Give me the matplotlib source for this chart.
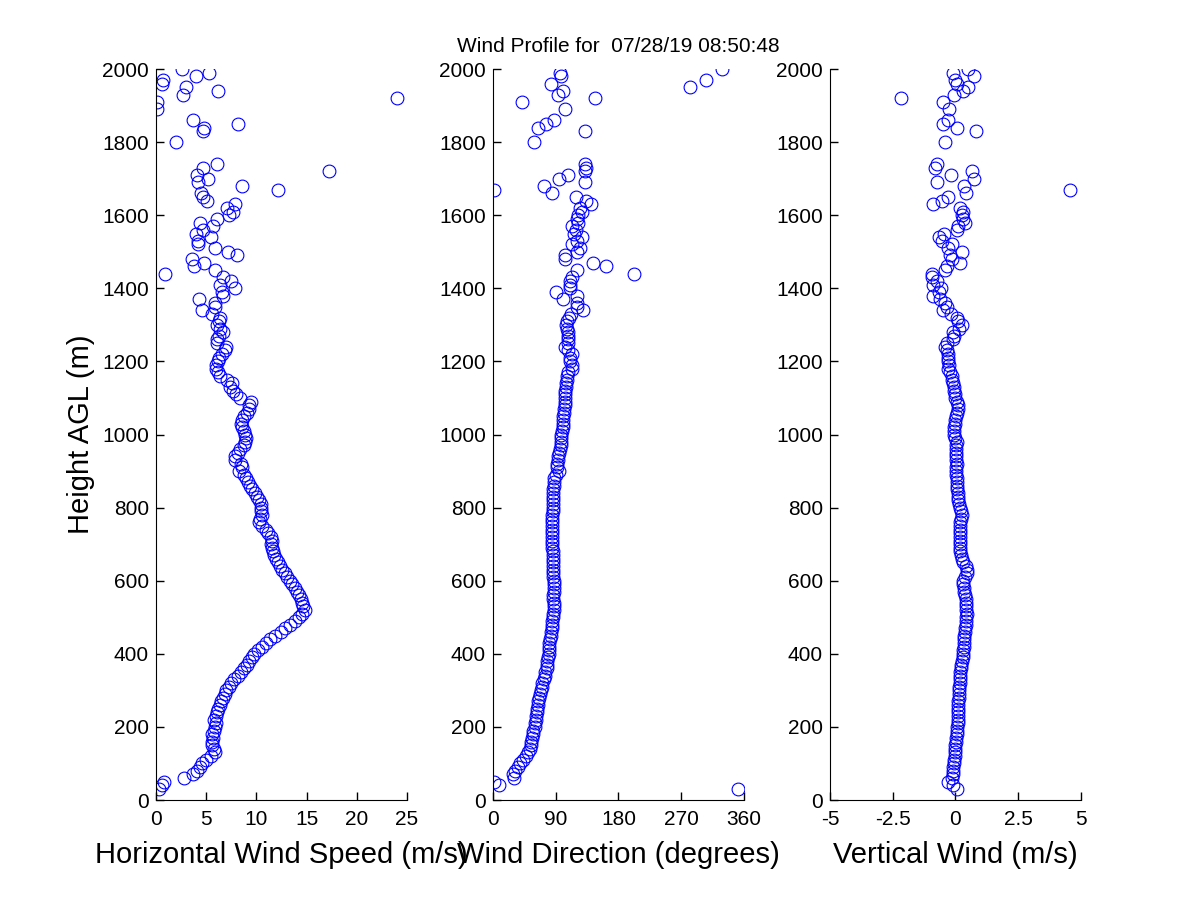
import numpy as np
import matplotlib
matplotlib.use('Agg')
import matplotlib.pyplot as plt

# range gates (m AGL); lower part every 10 m, some gates missing aloft
heights = [
    30, 40, 50, 60, 70, 80, 90, 100, 110, 120,
    130, 140, 150, 160, 170, 180, 190, 200, 210, 220,
    230, 240, 250, 260, 270, 280, 290, 300, 310, 320,
    330, 340, 350, 360, 370, 380, 390, 400, 410, 420,
    430, 440, 450, 460, 470, 480, 490, 500, 510, 520,
    530, 540, 550, 560, 570, 580, 590, 600, 610, 620,
    630, 640, 650, 660, 670, 680, 690, 700, 710, 720,
    730, 740, 750, 760, 770, 780, 790, 800, 810, 820,
    830, 840, 850, 860, 870, 880, 890, 900, 910, 920,
    930, 940, 950, 960, 970, 980, 990, 1000, 1010, 1020,
    1030, 1040, 1050, 1060, 1070, 1080, 1090, 1100, 1110, 1120,
    1130, 1140, 1150, 1160, 1170, 1180, 1190, 1200, 1210, 1220,
    1230, 1240, 1250, 1260, 1270, 1280, 1290, 1300, 1310, 1320,
    1330, 1340, 1350, 1360, 1370, 1380, 1390, 1400, 1410, 1420,
    1430, 1440, 1450, 1460, 1470, 1480, 1490, 1500, 1510, 1520,
    1530, 1540, 1550, 1560, 1570, 1580, 1590, 1600, 1610, 1620,
    1630, 1640, 1650, 1660, 1670, 1680, 1690, 1700, 1710, 1720,
    1730, 1740,
    1800, 1830, 1840, 1850, 1860, 1890, 1910, 1920, 1930, 1940,
    1950, 1960, 1970, 1980, 1990, 2000,
]

# horizontal wind speed (m/s)
speed = [
    0.3, 0.6, 0.8, 2.8, 3.7, 4.1, 4.4, 4.6, 5.0, 5.5,
    5.9, 5.8, 5.6, 5.6, 5.7, 5.6, 5.8, 5.9, 6.0, 5.8,
    6.0, 6.1, 6.2, 6.4, 6.5, 6.7, 6.9, 7.0, 7.3, 7.5,
    7.8, 8.2, 8.5, 8.8, 9.1, 9.3, 9.6, 9.8, 10.2, 10.6,
    11.0, 11.4, 11.9, 12.4, 12.8, 13.3, 13.8, 14.2, 14.5, 14.8,
    14.6, 14.5, 14.4, 14.2, 14.0, 13.8, 13.5, 13.3, 13.0, 12.8,
    12.5, 12.3, 12.1, 12.0, 11.8, 11.7, 11.6, 11.5, 11.6, 11.5,
    11.2, 11.0, 10.6, 10.3, 10.4, 10.6, 10.5, 10.5, 10.5, 10.3,
    10.1, 9.9, 9.6, 9.4, 9.2, 9.0, 8.8, 8.3, 8.6, 8.5,
    7.9, 7.9, 8.2, 8.4, 8.8, 8.9, 9.0, 8.9, 8.8, 8.6,
    8.5, 8.6, 8.8, 9.1, 9.3, 9.3, 9.5, 8.4, 8.0, 7.7,
    7.4, 7.6, 7.1, 6.4, 6.2, 6.0, 6.0, 6.2, 6.3, 6.6,
    6.9, 7.0, 6.1, 6.1, 6.3, 6.7, 6.4, 6.1, 6.3, 6.4,
    5.6, 4.6, 5.9, 5.9, 4.3, 6.7, 6.6, 7.9, 6.4, 7.5,
    6.7, 0.9, 5.9, 3.8, 4.8, 3.6, 8.1, 7.2, 5.9, 4.2,
    4.2, 5.5, 4.0, 4.7, 5.7, 4.4, 6.1, 7.3, 7.7, 7.1,
    7.9, 5.1, 4.7, 4.5, 12.1, 8.6, 4.2, 5.2, 4.1, 17.2,
    4.7, 6.1,
    2.0, 4.7, 4.8, 8.2, 3.7, 0.1, 0.1, 24.0, 2.7, 6.2,
    3.0, 0.6, 0.7, 4.0, 5.3, 2.6,
]

# wind direction (degrees)
direction = [
    352, 8, 2, 30, 29, 32, 36, 39, 43, 47,
    50, 53, 54, 55, 56, 57, 58, 60, 61, 62,
    62, 63, 63, 64, 65, 66, 67, 69, 70, 71,
    73, 74, 75, 77, 78, 78, 79, 80, 80, 80,
    81, 82, 83, 83, 84, 84, 85, 86, 86, 87,
    87, 87, 86, 86, 87, 87, 87, 87, 86, 86,
    86, 86, 86, 86, 86, 86, 85, 85, 85, 85,
    85, 85, 84, 85, 85, 85, 86, 86, 86, 86,
    86, 86, 86, 87, 88, 88, 91, 95, 92, 92,
    93, 93, 95, 96, 97, 97, 98, 98, 99, 100,
    100, 101, 101, 102, 102, 103, 104, 104, 104, 104,
    105, 105, 106, 106, 108, 113, 113, 110, 110, 113,
    108, 103, 108, 107, 107, 107, 106, 105, 106, 109,
    112, 129, 121, 121, 100, 120, 90, 110, 110, 110,
    113, 202, 121, 162, 144, 104, 104, 121, 125, 114,
    121, 127, 116, 119, 113, 122, 121, 122, 127, 125,
    141, 133, 119, 84, 2, 73, 132, 94, 108, 132,
    133, 132,
    59, 132, 64, 76, 88, 104, 41, 146, 93, 100,
    282, 83, 305, 98, 96, 329,
]

# vertical wind (m/s)
vertical = [
    0.05, -0.08, -0.28, -0.12, -0.10, -0.10, -0.08, -0.06, -0.05, -0.03,
    -0.02, 0.00, -0.02, 0.02, 0.03, 0.05, 0.05, 0.08, 0.10, 0.10,
    0.10, 0.10, 0.11, 0.12, 0.12, 0.13, 0.15, 0.15, 0.16, 0.17,
    0.17, 0.18, 0.20, 0.22, 0.24, 0.28, 0.30, 0.30, 0.32, 0.33,
    0.34, 0.35, 0.36, 0.38, 0.40, 0.42, 0.43, 0.44, 0.45, 0.44,
    0.43, 0.43, 0.42, 0.40, 0.36, 0.33, 0.30, 0.30, 0.38, 0.45,
    0.48, 0.42, 0.30, 0.25, 0.22, 0.20, 0.20, 0.20, 0.18, 0.18,
    0.19, 0.20, 0.20, 0.20, 0.22, 0.25, 0.22, 0.20, 0.16, 0.12,
    0.10, 0.09, 0.08, 0.06, 0.05, 0.05, 0.04, 0.03, 0.04, 0.05,
    0.04, 0.03, 0.03, 0.03, 0.04, 0.05, 0.00, -0.05, -0.05, -0.05,
    -0.03, -0.01, 0.02, 0.05, 0.10, 0.12, 0.05, 0.00, -0.03, -0.05,
    -0.06, -0.08, -0.12, -0.15, -0.20, -0.28, -0.27, -0.28, -0.30, -0.28,
    -0.35, -0.41, -0.35, -0.08, -0.05, -0.10, 0.16, 0.25, 0.12, 0.05,
    -0.19, -0.48, -0.35, -0.41, -0.61, -0.90, -0.64, -0.59, -0.90, -0.75,
    -0.95, -0.95, -0.41, -0.35, 0.19, -0.15, -0.20, 0.25, -0.30, -0.15,
    -0.55, -0.64, -0.44, 0.05, 0.12, 0.39, 0.29, 0.25, 0.32, 0.19,
    -0.90, -0.55, -0.31, 0.41, 4.56, 0.36, -0.72, 0.72, -0.19, 0.64,
    -0.81, -0.75,
    -0.41, 0.80, 0.08, -0.48, -0.28, -0.24, -0.51, -2.16, -0.05, 0.29,
    0.52, 0.05, 0.00, 0.72, -0.08, 0.52,
]

title_text = 'Wind Profile for  07/28/19 08:50:48'

plt.rcParams['font.family'] = ['Liberation Sans', 'DejaVu Sans']

fig = plt.figure(figsize=(12, 9), dpi=100)
lefts = [0.13, 0.4108, 0.6916]
panels = [
    (speed, 'Horizontal Wind Speed (m/s)', [0, 25], [0, 5, 10, 15, 20, 25], ['0', '5', '10', '15', '20', '25']),
    (direction, 'Wind Direction (degrees)', [0, 360], [0, 90, 180, 270, 360], ['0', '90', '180', '270', '360']),
    (vertical, 'Vertical Wind (m/s)', [-5, 5], [-5, -2.5, 0, 2.5, 5], ['-5', '-2.5', '0', '2.5', '5']),
]

axes = []
for left, (vals, xlabel, xlim, xt, xtl) in zip(lefts, panels):
    ax = fig.add_axes([left, 0.1111, 0.2092, 0.8122])
    ax.plot(vals, heights, 'o', linestyle='none', markerfacecolor='none',
            markeredgecolor='#0000ff', markersize=9.2, markeredgewidth=0.8)
    ax.set_xlim(xlim)
    ax.set_ylim(0, 2000)
    ax.set_xticks(xt)
    ax.set_xticklabels(xtl)
    ax.set_yticks(np.arange(0, 2001, 200))
    ax.spines['top'].set_visible(False)
    ax.spines['right'].set_visible(False)
    ax.tick_params(direction='in', length=6, width=1, labelsize=15, pad=5)
    ax.tick_params(axis='x', pad=7)
    ax.set_xlabel(xlabel, fontsize=21, labelpad=9)
    axes.append(ax)

axes[0].set_ylabel('Height AGL (m)', fontsize=21, labelpad=5)
axes[1].set_title(title_text, fontsize=15, pad=12)

fig.savefig('out.png', dpi=100)
